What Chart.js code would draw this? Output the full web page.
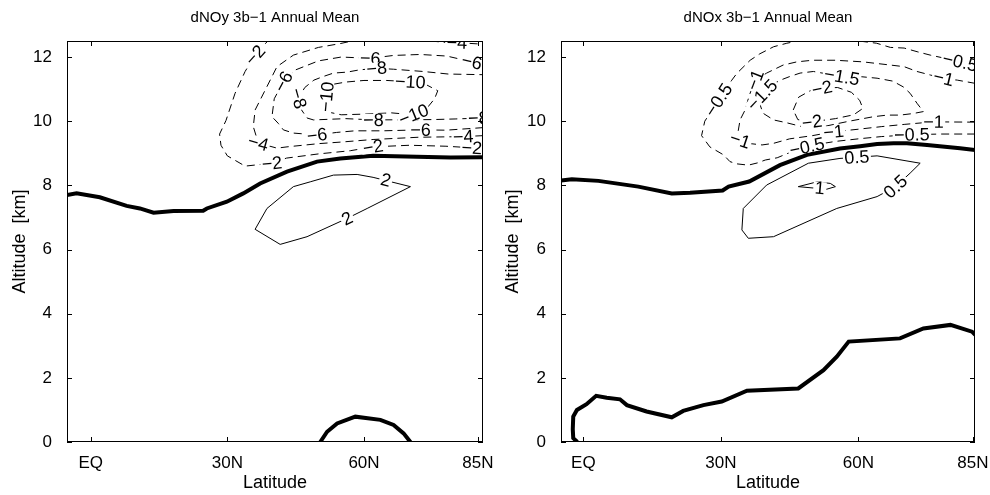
<!DOCTYPE html>
<html>
<head>
<meta charset="utf-8">
<script src="https://cdn.jsdelivr.net/npm/chart.js@4.4.1/dist/chart.umd.min.js"></script>
<style>
  body { margin: 0; background: #fff; }
  #wrap { position: relative; width: 990px; height: 495px; }
  canvas { position: absolute; top: 0; }
</style>
</head>
<body>
<div id="wrap">
  <canvas id="noyChart" width="495" height="495" style="left:0"></canvas>
  <canvas id="noxChart" width="495" height="495" style="left:495px"></canvas>
</div>
<script>
'use strict';

const latTicks = [0, 30, 60, 85];
const latTickLabels = ['EQ', '30N', '60N', '85N'];
const altTicks = [0, 2, 4, 6, 8, 10, 12];

// dNOy contours, points are [latitude, altitude km]
const noyZeroTop = [[-5.2, 7.7], [-3.1, 7.75], [2.0, 7.63], [7.9, 7.36], [10.8, 7.28], [13.8, 7.15], [18.2, 7.2],
  [24.7, 7.21], [25.5, 7.28], [29.9, 7.49], [33.5, 7.75], [37.2, 8.06], [43.1, 8.43], [49.7, 8.74], [54.8, 8.84],
  [62.0, 8.92], [71.6, 8.89], [79, 8.87], [86.2, 8.88]];
const noyZeroLow = [[50.4, 0], [51.9, 0.32], [54.1, 0.58], [58.1, 0.79], [63.6, 0.69], [66.5, 0.53], [68.7, 0.27], [70.2, 0]];
const noyPos2 = [[36.1, 6.63], [38.7, 7.28], [44.5, 7.96], [48.2, 8.11], [53.3, 8.32], [58.5, 8.34], [62, 8.25],
  [70.2, 7.96], [60.7, 7.28], [56.3, 6.97], [47.5, 6.4], [41.6, 6.16], [36.1, 6.63]];
const noyNeg2 = [[39.5, 12.6], [36.1, 12.06], [33.9, 11.55], [31.7, 10.87], [29.7, 10.02], [28.3, 9.6], [28.6, 9.25],
  [30.0, 8.92], [33.9, 8.6], [39.8, 8.69], [43, 8.85], [50, 8.98], [57, 9.08], [62, 9.2], [70, 9.25], [78, 9.22], [86.2, 9.15]];
const noyNeg4 = [[86.2, 9.55], [81.8, 9.52], [72, 9.5], [62, 9.43], [55, 9.35], [50, 9.3], [43.1, 9.2], [40.9, 9.16],
  [36.8, 9.32], [35.7, 9.83], [36.1, 10.35], [38.7, 11.08], [40.9, 11.7], [44.5, 12.06], [50, 12.3], [54.8, 12.42],
  [58, 12.52], [65, 12.58], [72, 12.54], [77.5, 12.46], [80.4, 12.45], [86.2, 12.4]];
const noyNeg6 = [[86.2, 9.8], [78, 9.72], [72.4, 9.73], [64, 9.7], [58, 9.7], [54, 9.65], [49.7, 9.57], [44.5, 9.63],
  [42.3, 9.73], [41.2, 9.93], [39.8, 10.14], [40.3, 10.7], [42.3, 11.23], [45, 11.6], [50, 11.88], [55, 12.0],
  [61.4, 11.96], [66.5, 12.05], [72.4, 12.08], [78.2, 12.03], [83.7, 11.85], [86.2, 11.78]];
const noyNeg8 = [[86.2, 10.1], [80, 10.07], [75, 10.05], [62.1, 10.04], [56, 10.08], [48.9, 10.04], [47.5, 10.1],
  [46.3, 10.35], [45.6, 10.71], [47, 11.05], [49, 11.28], [51, 11.39], [53.3, 11.5], [56.3, 11.53], [59, 11.6],
  [62.8, 11.65], [66.5, 11.62], [73, 11.55], [78.5, 11.47], [86.2, 11.45]];
const noyNeg10 = [[51.5, 10.45], [51.8, 10.9], [53.2, 11.15], [56, 11.22], [60, 11.27], [65, 11.27], [70.2, 11.23],
  [73.5, 11.15], [76.2, 10.95], [75.5, 10.7], [73.5, 10.35], [70.9, 10.2], [66, 10.26], [60, 10.22], [55, 10.2],
  [52.3, 10.28], [51.5, 10.45]];
// [level, latitude, altitude]
const noyLabels = [[-2, 36.1, 12.06], [-2, 39.8, 8.69], [-2, 62, 9.2], [-2, 83.7, 9.17],
  [-4, 36.8, 9.32], [-4, 80.4, 12.45], [-4, 81.8, 9.52],
  [-6, 42.3, 11.23], [-6, 61.4, 11.96], [-6, 83.7, 11.85], [-6, 49.7, 9.57], [-6, 72.4, 9.73],
  [-8, 45.6, 10.71], [-8, 62.8, 11.65], [-8, 62.1, 10.04], [-8, 85.1, 10.1],
  [-10, 51.8, 10.76], [-10, 70.2, 11.23], [-10, 70.9, 10.2],
  [2, 64.8, 8.17], [2, 56.3, 6.97]];

// dNOx contours
const noxZeroTop = [[-4.9, 8.15], [-2.5, 8.19], [3.3, 8.14], [12.0, 7.96], [19.3, 7.75], [23.3, 7.77], [30.4, 7.84],
  [31.7, 7.96], [36.2, 8.12], [42.9, 8.63], [48.8, 8.95], [56.0, 9.15], [60.4, 9.22], [64.1, 9.29], [67.7, 9.31],
  [70.6, 9.31], [75, 9.26], [82.2, 9.16], [85.5, 9.1]];
const noxZeroLow = [[-1.3, 0], [-2.2, 0.12], [-2.3, 0.4], [-2.2, 0.79], [-1.4, 1.0], [0.7, 1.18], [2.8, 1.44],
  [5.1, 1.38], [8.0, 1.33], [9.5, 1.15], [13.8, 0.95], [19.3, 0.77], [21.8, 0.97], [26.2, 1.15], [30.2, 1.26],
  [35.7, 1.6], [46.9, 1.67], [52.4, 2.24], [55.3, 2.66], [57.9, 3.13], [69.1, 3.23], [74.2, 3.54], [80.1, 3.65],
  [84.8, 3.44], [85.5, 3.34]];
const noxPos05 = [[34.9, 7.28], [40.0, 8.01], [49.1, 8.69], [56.0, 8.84], [64.1, 8.92], [73.5, 8.69], [71.3, 8.38],
  [68.1, 7.96], [64.1, 7.65], [55.3, 7.28], [41.5, 6.4], [36.0, 6.35], [34.6, 6.61], [34.9, 7.28]];
const noxPos1 = [[46.9, 7.96], [51.0, 8.11], [53.9, 8.06], [55.0, 7.96], [53.1, 7.88], [46.9, 7.96]];
const noxNeg05 = [[85.5, 9.6], [78, 9.6], [71.7, 9.58], [65, 9.52], [60, 9.45], [55, 9.37], [52, 9.3], [48.8, 9.2],
  [45, 9.02], [42.3, 8.86], [39.7, 8.79], [38, 8.7], [36, 8.63], [33.5, 8.67], [32, 8.74], [30.6, 8.95], [27.6, 9.2],
  [25.8, 9.55], [26.5, 10.0], [29.5, 10.66], [32.4, 11.28], [33.5, 11.49], [36.4, 11.9], [38.5, 12.1], [41.5, 12.32],
  [44.4, 12.43], [47.5, 12.52], [53, 12.58], [59, 12.52], [64, 12.43], [67, 12.3], [70, 12.28], [73, 12.16],
  [75.7, 12.06], [78.6, 11.97], [82.2, 11.85], [85.5, 11.78]];
const noxNeg1 = [[85.5, 9.97], [76.4, 9.98], [70, 9.9], [65, 9.83], [60, 9.75], [54.6, 9.67], [50, 9.55], [45, 9.45],
  [41.5, 9.31], [39, 9.26], [36.5, 9.3], [34.2, 9.41], [33.8, 9.7], [34.2, 10.04], [35.3, 10.35], [36.2, 10.8],
  [37.5, 11.28], [40, 11.5], [43.6, 11.75], [46.6, 11.85], [50, 11.9], [55, 11.9], [61, 11.85], [67, 11.75], [70, 11.7],
  [72.8, 11.55], [75.7, 11.44], [78.6, 11.34], [81.6, 11.28], [85.5, 11.18]];
const noxNeg15 = [[39, 10.82], [41, 11.12], [43, 11.28], [45, 11.39], [47.3, 11.5], [50.2, 11.55], [56.4, 11.39],
  [60.4, 11.39], [64.1, 11.34], [67.5, 11.25], [69.8, 11.07], [71.3, 10.87], [72.8, 10.56], [74.2, 10.3], [72, 10.24],
  [69.1, 10.19], [66.3, 10.19], [63.3, 10.14], [58, 10.0], [53, 9.85], [48, 9.82], [44.4, 9.95], [41.5, 10.04],
  [39.2, 10.25], [38.6, 10.5], [39, 10.82]];
const noxNeg2 = [[45.8, 10.35], [47, 10.75], [49.5, 10.95], [52.1, 11.03], [55.5, 11.05], [58.5, 10.9], [60.3, 10.65],
  [61, 10.4], [59, 10.2], [55, 10.08], [49.9, 9.98], [46.8, 10.05], [45.8, 10.35]];
const noxLabels = [[-0.5, 29.5, 10.66], [-0.5, 82.2, 11.85], [-0.5, 71.7, 9.58], [-0.5, 48.8, 9.2],
  [-1, 37.5, 11.28], [-1, 78.6, 11.34], [-1, 76.4, 9.98], [-1, 34.2, 9.41], [-1, 54.6, 9.67],
  [-1.5, 39, 10.82], [-1.5, 56.4, 11.39],
  [-2, 52.1, 11.03], [-2, 49.9, 9.98],
  [0.5, 59.7, 8.88], [0.5, 68.1, 7.96], [1, 51.6, 7.92]];

const FONT = '"Liberation Sans", Arial, Helvetica, sans-serif';
Chart.defaults.font.family = FONT;
Chart.defaults.color = '#000';

function line(points, level, width, dash) {
  return {
    level: level,
    data: points.map(p => ({x: p[0], y: p[1]})),
    showLine: true,
    borderColor: '#000',
    borderWidth: width,
    borderDash: dash || [],
    pointRadius: 0,
    pointHoverRadius: 0,
    tension: 0,
    clip: 0,
    fill: false
  };
}
const DASH = [8, 5];

function levelText(v) {
  return v < 0 ? '\u2212' + Math.abs(v) : String(v);
}

function segDist(px, py, ax, ay, bx, by) {
  const dx = bx - ax, dy = by - ay;
  const len = dx * dx + dy * dy;
  let t = len ? ((px - ax) * dx + (py - ay) * dy) / len : 0;
  t = Math.max(0, Math.min(1, t));
  return Math.hypot(px - (ax + t * dx), py - (ay + t * dy));
}

// inline contour labels, rotated along the nearest segment of their level
function labelPlugin(items) {
  return {
    id: 'contourLabels',
    afterDatasetsDraw(chart) {
      const ctx = chart.ctx, area = chart.chartArea;
      const xs = chart.scales.x, ys = chart.scales.y;
      ctx.save();
      ctx.beginPath();
      ctx.rect(area.left, area.top, area.width, area.height);
      ctx.clip();
      ctx.font = '18px ' + FONT;
      ctx.textAlign = 'center';
      ctx.textBaseline = 'middle';
      items.forEach(([lev, lat, alt]) => {
        const px = xs.getPixelForValue(lat), py = ys.getPixelForValue(alt);
        let best = Infinity, ang = 0;
        chart.data.datasets.forEach(ds => {
          if (ds.level !== lev) return;
          for (let i = 1; i < ds.data.length; i++) {
            const ax = xs.getPixelForValue(ds.data[i - 1].x), ay = ys.getPixelForValue(ds.data[i - 1].y);
            const bx = xs.getPixelForValue(ds.data[i].x), by = ys.getPixelForValue(ds.data[i].y);
            const d = segDist(px, py, ax, ay, bx, by);
            if (d < best) { best = d; ang = Math.atan2(by - ay, bx - ax); }
          }
        });
        if (ang > Math.PI / 2) ang -= Math.PI;
        if (ang < -Math.PI / 2) ang += Math.PI;
        const txt = levelText(lev);
        const w = ctx.measureText(txt).width;
        ctx.save();
        ctx.translate(px, py);
        ctx.rotate(ang);
        ctx.fillStyle = '#fff';
        ctx.fillRect(-w / 2 - 1.5, -6, w + 3, 12);
        ctx.fillStyle = '#000';
        ctx.fillText(txt, 0, 1);
        ctx.restore();
      });
      ctx.restore();
    }
  };
}

// box round the axes with inward tick marks
const frame = {
  id: 'frame',
  afterDraw(chart) {
    const ctx = chart.ctx, a = chart.chartArea;
    const xs = chart.scales.x, ys = chart.scales.y;
    ctx.save();
    ctx.strokeStyle = '#000';
    ctx.lineWidth = 1;
    ctx.strokeRect(a.left + 0.5, a.top + 0.5, a.width - 1, a.height - 1);
    ctx.beginPath();
    xs.ticks.forEach(t => {
      const px = Math.round(xs.getPixelForValue(t.value)) + 0.5;
      ctx.moveTo(px, a.bottom); ctx.lineTo(px, a.bottom - 5);
      ctx.moveTo(px, a.top); ctx.lineTo(px, a.top + 5);
    });
    ys.ticks.forEach(t => {
      const py = Math.round(ys.getPixelForValue(t.value)) + 0.5;
      ctx.moveTo(a.left, py); ctx.lineTo(a.left + 5, py);
      ctx.moveTo(a.right, py); ctx.lineTo(a.right - 5, py);
    });
    ctx.stroke();
    ctx.restore();
  }
};

function makePanel(id, title, sets, labels, latMin, latMax, axisWidth, padRight, titlePad) {
  new Chart(document.getElementById(id), {
    type: 'scatter',
    data: {datasets: sets},
    options: {
      responsive: false,
      animation: false,
      events: [],
      layout: {padding: {left: 0, right: padRight, top: 0, bottom: 0}},
      plugins: {
        legend: {display: false},
        tooltip: {enabled: false},
        title: {
          display: true,
          text: title,
          fullSize: false,
          color: '#000',
          font: {size: 15, weight: 'normal'},
          padding: {top: 9, bottom: 14}
        }
      },
      scales: {
        x: {
          type: 'linear',
          min: latMin,
          max: latMax,
          grid: {display: false},
          border: {display: false},
          afterBuildTicks: s => { s.ticks = latTicks.map(v => ({value: v})); },
          afterFit: s => { s.height = 53; s.paddingLeft = 0; s.paddingRight = 0; },
          ticks: {
            autoSkip: false,
            maxRotation: 0,
            padding: 3,
            font: {size: 17},
            callback: (v, i) => latTickLabels[i]
          },
          title: {display: true, text: 'Latitude', font: {size: 18}, padding: {top: 0, bottom: 1}}
        },
        y: {
          type: 'linear',
          min: 0,
          max: 12.5,
          grid: {display: false},
          border: {display: false},
          afterBuildTicks: s => { s.ticks = altTicks.map(v => ({value: v})); },
          afterFit: s => { s.width = axisWidth; s.paddingTop = 0; s.paddingBottom = 0; },
          ticks: {padding: 7, font: {size: 17}, callback: v => String(v)},
          title: {display: true, text: 'Altitude  [km]', font: {size: 18}, padding: {top: titlePad, bottom: 0}}
        }
      }
    },
    plugins: [labelPlugin(labels), frame]
  });
}

makePanel('noyChart', 'dNOy 3b\u22121 Annual Mean', [
  line(noyZeroTop, 0, 4),
  line(noyZeroLow, 0, 4),
  line(noyPos2, 2, 1),
  line(noyNeg2, -2, 1, DASH),
  line(noyNeg4, -4, 1, DASH),
  line(noyNeg6, -6, 1, DASH),
  line(noyNeg8, -8, 1, DASH),
  line(noyNeg10, -10, 1, DASH)
], noyLabels, -5.2, 86.13, 67, 12, 9);

makePanel('noxChart', 'dNOx 3b\u22121 Annual Mean', [
  line(noxZeroTop, 0, 4),
  line(noxZeroLow, 0, 4),
  line(noxPos05, 0.5, 1),
  line(noxPos1, 1, 1),
  line(noxNeg05, -0.5, 1, DASH),
  line(noxNeg1, -1, 1, DASH),
  line(noxNeg15, -1.5, 1, DASH),
  line(noxNeg2, -2, 1, DASH)
], noxLabels, -4.87, 85.46, 66, 15, 7);
</script>
</body>
</html>
